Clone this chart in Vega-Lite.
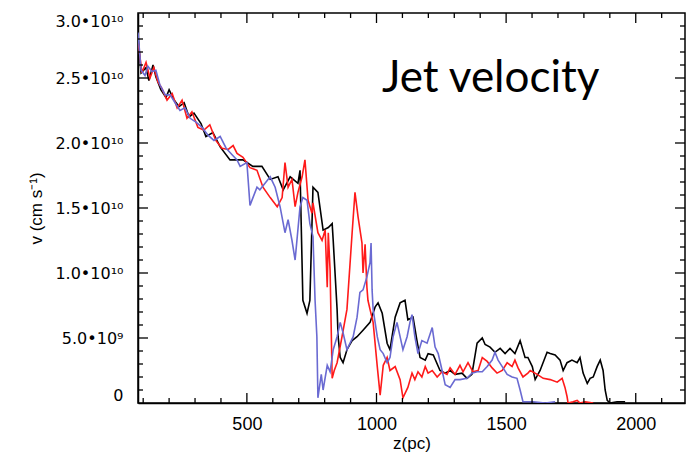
{
  "$schema": "https://vega.github.io/schema/vega-lite/v6.json",
  "width": 547,
  "height": 390,
  "autosize": "none",
  "padding": {"left": 138, "top": 13, "right": 8, "bottom": 59},
  "background": "white",
  "config": {
    "view": {"stroke": "black", "strokeWidth": 1.5, "strokeOpacity": 1},
    "rule": {"opacity": 1, "strokeOpacity": 1, "color": "black"},
    "axis": {
      "grid": false,
      "domainColor": "black",
      "domainWidth": 1.5,
      "domainOpacity": 1,
      "ticks": true,
      "tickColor": "black",
      "tickOpacity": 1,
      "tickWidth": 1.3,
      "labelColor": "black",
      "labelFont": "Liberation Sans",
      "titleFont": "Liberation Sans",
      "titleColor": "black",
      "titleFontWeight": "normal"
    }
  },
  "datasets": {
    "label": [{"z": 1021, "v": 23.9e9, "label": "Jet velocity"}],
    "xmajor": [{"z": 500}, {"z": 1000}, {"z": 1500}, {"z": 2000}],
    "xminor": [{"z": 100}, {"z": 200}, {"z": 300}, {"z": 400}, {"z": 600}, {"z": 700}, {"z": 800}, {"z": 900}, {"z": 1100}, {"z": 1200}, {"z": 1300}, {"z": 1400}, {"z": 1600}, {"z": 1700}, {"z": 1800}, {"z": 1900}, {"z": 2100}],
    "ymajor": [{"v": 5e9}, {"v": 10e9}, {"v": 15e9}, {"v": 20e9}, {"v": 25e9}],
    "yminor": [{"v": 1e9}, {"v": 2e9}, {"v": 3e9}, {"v": 4e9}, {"v": 6e9}, {"v": 7e9}, {"v": 8e9}, {"v": 9e9}, {"v": 11e9}, {"v": 12e9}, {"v": 13e9}, {"v": 14e9}, {"v": 16e9}, {"v": 17e9}, {"v": 18e9}, {"v": 19e9}, {"v": 21e9}, {"v": 22e9}, {"v": 23e9}, {"v": 24e9}, {"v": 26e9}, {"v": 27e9}, {"v": 28e9}, {"v": 29e9}]
  },
  "layer": [
    {
      "data": {
        "values": [
          {"run": "black", "z": 80, "v": 28.2e9}, {"run": "black", "z": 92, "v": 25.4e9}, {"run": "black", "z": 111, "v": 25.8e9}, {"run": "black", "z": 122, "v": 24.8e9}, {"run": "black", "z": 138, "v": 26.0e9}, {"run": "black", "z": 149, "v": 25.1e9}, {"run": "black", "z": 168, "v": 24.1e9}, {"run": "black", "z": 188, "v": 23.5e9}, {"run": "black", "z": 200, "v": 24.1e9}, {"run": "black", "z": 219, "v": 23.3e9}, {"run": "black", "z": 238, "v": 22.8e9}, {"run": "black", "z": 258, "v": 23.1e9}, {"run": "black", "z": 277, "v": 22.0e9}, {"run": "black", "z": 296, "v": 22.3e9}, {"run": "black", "z": 323, "v": 21.5e9}, {"run": "black", "z": 342, "v": 20.5e9}, {"run": "black", "z": 369, "v": 20.8e9}, {"run": "black", "z": 397, "v": 19.7e9}, {"run": "black", "z": 435, "v": 18.7e9}, {"run": "black", "z": 485, "v": 18.7e9}, {"run": "black", "z": 523, "v": 18.2e9}, {"run": "black", "z": 558, "v": 18.2e9}, {"run": "black", "z": 590, "v": 17.2e9}, {"run": "black", "z": 620, "v": 17.4e9}, {"run": "black", "z": 640, "v": 16.4e9}, {"run": "black", "z": 667, "v": 17.4e9}, {"run": "black", "z": 697, "v": 16.9e9}, {"run": "black", "z": 705, "v": 17.9e9}, {"run": "black", "z": 716, "v": 7.9e9}, {"run": "black", "z": 732, "v": 6.9e9}, {"run": "black", "z": 743, "v": 7.9e9}, {"run": "black", "z": 755, "v": 16.6e9}, {"run": "black", "z": 774, "v": 16.2e9}, {"run": "black", "z": 794, "v": 13.3e9}, {"run": "black", "z": 814, "v": 13.5e9}, {"run": "black", "z": 829, "v": 13.8e9}, {"run": "black", "z": 833, "v": 12.5e9}, {"run": "black", "z": 848, "v": 7.2e9}, {"run": "black", "z": 852, "v": 5.1e9}, {"run": "black", "z": 860, "v": 3.5e9}, {"run": "black", "z": 871, "v": 3.1e9}, {"run": "black", "z": 886, "v": 4.1e9}, {"run": "black", "z": 906, "v": 4.8e9}, {"run": "black", "z": 925, "v": 5.1e9}, {"run": "black", "z": 948, "v": 5.6e9}, {"run": "black", "z": 975, "v": 6.2e9}, {"run": "black", "z": 995, "v": 7.4e9}, {"run": "black", "z": 1006, "v": 7.7e9}, {"run": "black", "z": 1022, "v": 6.9e9}, {"run": "black", "z": 1041, "v": 4.6e9}, {"run": "black", "z": 1052, "v": 4.1e9}, {"run": "black", "z": 1072, "v": 6.6e9}, {"run": "black", "z": 1091, "v": 7.7e9}, {"run": "black", "z": 1110, "v": 7.9e9}, {"run": "black", "z": 1121, "v": 6.4e9}, {"run": "black", "z": 1141, "v": 6.6e9}, {"run": "black", "z": 1156, "v": 4.8e9}, {"run": "black", "z": 1168, "v": 3.5e9}, {"run": "black", "z": 1188, "v": 3.3e9}, {"run": "black", "z": 1199, "v": 3.8e9}, {"run": "black", "z": 1219, "v": 3.7e9}, {"run": "black", "z": 1245, "v": 2.5e9}, {"run": "black", "z": 1265, "v": 2.3e9}, {"run": "black", "z": 1284, "v": 2.5e9}, {"run": "black", "z": 1303, "v": 2.2e9}, {"run": "black", "z": 1330, "v": 2.3e9}, {"run": "black", "z": 1349, "v": 1.9e9}, {"run": "black", "z": 1368, "v": 2.2e9}, {"run": "black", "z": 1388, "v": 4.6e9}, {"run": "black", "z": 1408, "v": 5.0e9}, {"run": "black", "z": 1419, "v": 4.5e9}, {"run": "black", "z": 1438, "v": 4.3e9}, {"run": "black", "z": 1457, "v": 3.9e9}, {"run": "black", "z": 1477, "v": 4.2e9}, {"run": "black", "z": 1496, "v": 3.8e9}, {"run": "black", "z": 1515, "v": 4.2e9}, {"run": "black", "z": 1534, "v": 3.8e9}, {"run": "black", "z": 1554, "v": 4.8e9}, {"run": "black", "z": 1573, "v": 3.5e9}, {"run": "black", "z": 1584, "v": 3.5e9}, {"run": "black", "z": 1601, "v": 2.8e9}, {"run": "black", "z": 1612, "v": 1.8e9}, {"run": "black", "z": 1631, "v": 2.5e9}, {"run": "black", "z": 1658, "v": 3.9e9}, {"run": "black", "z": 1670, "v": 3.8e9}, {"run": "black", "z": 1689, "v": 3.7e9}, {"run": "black", "z": 1708, "v": 3.3e9}, {"run": "black", "z": 1720, "v": 2.5e9}, {"run": "black", "z": 1735, "v": 3.1e9}, {"run": "black", "z": 1754, "v": 3.3e9}, {"run": "black", "z": 1774, "v": 3.1e9}, {"run": "black", "z": 1785, "v": 3.5e9}, {"run": "black", "z": 1797, "v": 2.3e9}, {"run": "black", "z": 1813, "v": 1.5e9}, {"run": "black", "z": 1824, "v": 1.9e9}, {"run": "black", "z": 1836, "v": 2.0e9}, {"run": "black", "z": 1851, "v": 2.8e9}, {"run": "black", "z": 1863, "v": 3.3e9}, {"run": "black", "z": 1874, "v": 2.5e9}, {"run": "black", "z": 1882, "v": 1.0e9}, {"run": "black", "z": 1890, "v": 0.2e9}, {"run": "black", "z": 1901, "v": 0}, {"run": "black", "z": 1928, "v": 0.1e9}, {"run": "black", "z": 1959, "v": 0.1e9},

          {"run": "red", "z": 80, "v": 27.9e9}, {"run": "red", "z": 95, "v": 25.4e9}, {"run": "red", "z": 111, "v": 26.2e9}, {"run": "red", "z": 126, "v": 25.0e9}, {"run": "red", "z": 141, "v": 25.8e9}, {"run": "red", "z": 157, "v": 24.7e9}, {"run": "red", "z": 172, "v": 24.2e9}, {"run": "red", "z": 192, "v": 23.3e9}, {"run": "red", "z": 212, "v": 23.8e9}, {"run": "red", "z": 231, "v": 22.7e9}, {"run": "red", "z": 250, "v": 23.3e9}, {"run": "red", "z": 269, "v": 21.9e9}, {"run": "red", "z": 288, "v": 22.4e9}, {"run": "red", "z": 311, "v": 21.2e9}, {"run": "red", "z": 334, "v": 21.0e9}, {"run": "red", "z": 357, "v": 21.4e9}, {"run": "red", "z": 380, "v": 20.2e9}, {"run": "red", "z": 404, "v": 19.6e9}, {"run": "red", "z": 428, "v": 19.5e9}, {"run": "red", "z": 447, "v": 19.8e9}, {"run": "red", "z": 462, "v": 19.2e9}, {"run": "red", "z": 485, "v": 18.9e9}, {"run": "red", "z": 512, "v": 18.1e9}, {"run": "red", "z": 539, "v": 17.9e9}, {"run": "red", "z": 562, "v": 16.6e9}, {"run": "red", "z": 590, "v": 15.8e9}, {"run": "red", "z": 617, "v": 15.1e9}, {"run": "red", "z": 636, "v": 15.8e9}, {"run": "red", "z": 647, "v": 18.5e9}, {"run": "red", "z": 659, "v": 16.6e9}, {"run": "red", "z": 674, "v": 17.2e9}, {"run": "red", "z": 686, "v": 15.1e9}, {"run": "red", "z": 697, "v": 16.2e9}, {"run": "red", "z": 713, "v": 17.4e9}, {"run": "red", "z": 724, "v": 18.7e9}, {"run": "red", "z": 736, "v": 15.6e9}, {"run": "red", "z": 751, "v": 14.6e9}, {"run": "red", "z": 755, "v": 15.4e9}, {"run": "red", "z": 774, "v": 13.1e9}, {"run": "red", "z": 790, "v": 12.5e9}, {"run": "red", "z": 802, "v": 13.3e9}, {"run": "red", "z": 810, "v": 8.9e9}, {"run": "red", "z": 814, "v": 13.1e9}, {"run": "red", "z": 821, "v": 10.2e9}, {"run": "red", "z": 829, "v": 1.9e9}, {"run": "red", "z": 837, "v": 2.5e9}, {"run": "red", "z": 848, "v": 3.1e9}, {"run": "red", "z": 867, "v": 5.1e9}, {"run": "red", "z": 886, "v": 7.2e9}, {"run": "red", "z": 906, "v": 13.1e9}, {"run": "red", "z": 917, "v": 16.2e9}, {"run": "red", "z": 929, "v": 14.3e9}, {"run": "red", "z": 944, "v": 12.3e9}, {"run": "red", "z": 948, "v": 10.0e9}, {"run": "red", "z": 956, "v": 12.2e9}, {"run": "red", "z": 963, "v": 8.9e9}, {"run": "red", "z": 967, "v": 7.9e9}, {"run": "red", "z": 975, "v": 7.2e9}, {"run": "red", "z": 987, "v": 6.2e9}, {"run": "red", "z": 1003, "v": 2.8e9}, {"run": "red", "z": 1014, "v": 0.6e9}, {"run": "red", "z": 1026, "v": 2.9e9}, {"run": "red", "z": 1041, "v": 3.5e9}, {"run": "red", "z": 1052, "v": 2.5e9}, {"run": "red", "z": 1072, "v": 2.8e9}, {"run": "red", "z": 1091, "v": 1.8e9}, {"run": "red", "z": 1102, "v": 0.4e9}, {"run": "red", "z": 1121, "v": 1.2e9}, {"run": "red", "z": 1137, "v": 2.3e9}, {"run": "red", "z": 1148, "v": 1.8e9}, {"run": "red", "z": 1160, "v": 2.4e9}, {"run": "red", "z": 1175, "v": 2.0e9}, {"run": "red", "z": 1188, "v": 2.8e9}, {"run": "red", "z": 1199, "v": 2.3e9}, {"run": "red", "z": 1215, "v": 2.5e9}, {"run": "red", "z": 1234, "v": 2.0e9}, {"run": "red", "z": 1253, "v": 2.4e9}, {"run": "red", "z": 1272, "v": 2.2e9}, {"run": "red", "z": 1284, "v": 2.7e9}, {"run": "red", "z": 1303, "v": 2.2e9}, {"run": "red", "z": 1322, "v": 2.9e9}, {"run": "red", "z": 1334, "v": 2.4e9}, {"run": "red", "z": 1353, "v": 3.1e9}, {"run": "red", "z": 1372, "v": 2.4e9}, {"run": "red", "z": 1392, "v": 2.5e9}, {"run": "red", "z": 1408, "v": 3.5e9}, {"run": "red", "z": 1427, "v": 3.2e9}, {"run": "red", "z": 1446, "v": 2.7e9}, {"run": "red", "z": 1465, "v": 2.3e9}, {"run": "red", "z": 1485, "v": 2.5e9}, {"run": "red", "z": 1504, "v": 3.1e9}, {"run": "red", "z": 1523, "v": 2.8e9}, {"run": "red", "z": 1534, "v": 3.3e9}, {"run": "red", "z": 1546, "v": 2.7e9}, {"run": "red", "z": 1565, "v": 2.0e9}, {"run": "red", "z": 1584, "v": 2.3e9}, {"run": "red", "z": 1593, "v": 2.5e9}, {"run": "red", "z": 1620, "v": 2.2e9}, {"run": "red", "z": 1643, "v": 1.9e9}, {"run": "red", "z": 1670, "v": 1.8e9}, {"run": "red", "z": 1697, "v": 1.6e9}, {"run": "red", "z": 1716, "v": 1.9e9}, {"run": "red", "z": 1727, "v": 1.2e9}, {"run": "red", "z": 1735, "v": 0.5e9}, {"run": "red", "z": 1739, "v": 0}, {"run": "red", "z": 1758, "v": 0.1e9}, {"run": "red", "z": 1774, "v": 0.2e9}, {"run": "red", "z": 1785, "v": 0}, {"run": "red", "z": 1805, "v": 0.1e9}, {"run": "red", "z": 1836, "v": 0},

          {"run": "blue", "z": 80, "v": 28.5e9}, {"run": "blue", "z": 92, "v": 25.6e9}, {"run": "blue", "z": 107, "v": 25.2e9}, {"run": "blue", "z": 118, "v": 25.9e9}, {"run": "blue", "z": 134, "v": 25.5e9}, {"run": "blue", "z": 149, "v": 25.6e9}, {"run": "blue", "z": 164, "v": 24.5e9}, {"run": "blue", "z": 185, "v": 23.7e9}, {"run": "blue", "z": 204, "v": 23.7e9}, {"run": "blue", "z": 223, "v": 23.1e9}, {"run": "blue", "z": 242, "v": 22.5e9}, {"run": "blue", "z": 261, "v": 22.7e9}, {"run": "blue", "z": 281, "v": 21.9e9}, {"run": "blue", "z": 304, "v": 21.6e9}, {"run": "blue", "z": 327, "v": 21.2e9}, {"run": "blue", "z": 350, "v": 20.6e9}, {"run": "blue", "z": 373, "v": 20.2e9}, {"run": "blue", "z": 397, "v": 20.5e9}, {"run": "blue", "z": 420, "v": 19.6e9}, {"run": "blue", "z": 443, "v": 19.1e9}, {"run": "blue", "z": 462, "v": 18.7e9}, {"run": "blue", "z": 474, "v": 18.2e9}, {"run": "blue", "z": 500, "v": 18.5e9}, {"run": "blue", "z": 512, "v": 15.2e9}, {"run": "blue", "z": 539, "v": 16.6e9}, {"run": "blue", "z": 550, "v": 16.4e9}, {"run": "blue", "z": 570, "v": 16.9e9}, {"run": "blue", "z": 590, "v": 17.4e9}, {"run": "blue", "z": 609, "v": 16.6e9}, {"run": "blue", "z": 628, "v": 15.1e9}, {"run": "blue", "z": 647, "v": 13.1e9}, {"run": "blue", "z": 659, "v": 14.1e9}, {"run": "blue", "z": 674, "v": 12.5e9}, {"run": "blue", "z": 686, "v": 11.0e9}, {"run": "blue", "z": 693, "v": 12.5e9}, {"run": "blue", "z": 705, "v": 15.1e9}, {"run": "blue", "z": 716, "v": 15.8e9}, {"run": "blue", "z": 732, "v": 15.6e9}, {"run": "blue", "z": 743, "v": 13.8e9}, {"run": "blue", "z": 755, "v": 12.8e9}, {"run": "blue", "z": 763, "v": 7.9e9}, {"run": "blue", "z": 770, "v": 5.1e9}, {"run": "blue", "z": 774, "v": 0.4e9}, {"run": "blue", "z": 787, "v": 2.2e9}, {"run": "blue", "z": 794, "v": 1.0e9}, {"run": "blue", "z": 810, "v": 2.9e9}, {"run": "blue", "z": 821, "v": 2.4e9}, {"run": "blue", "z": 833, "v": 4.1e9}, {"run": "blue", "z": 848, "v": 5.1e9}, {"run": "blue", "z": 860, "v": 6.2e9}, {"run": "blue", "z": 871, "v": 5.4e9}, {"run": "blue", "z": 886, "v": 4.1e9}, {"run": "blue", "z": 898, "v": 4.6e9}, {"run": "blue", "z": 910, "v": 5.1e9}, {"run": "blue", "z": 925, "v": 6.6e9}, {"run": "blue", "z": 936, "v": 8.5e9}, {"run": "blue", "z": 948, "v": 8.7e9}, {"run": "blue", "z": 963, "v": 9.7e9}, {"run": "blue", "z": 975, "v": 10.8e9}, {"run": "blue", "z": 979, "v": 12.3e9}, {"run": "blue", "z": 983, "v": 8.7e9}, {"run": "blue", "z": 987, "v": 7.2e9}, {"run": "blue", "z": 1003, "v": 5.1e9}, {"run": "blue", "z": 1014, "v": 4.1e9}, {"run": "blue", "z": 1026, "v": 3.8e9}, {"run": "blue", "z": 1041, "v": 3.1e9}, {"run": "blue", "z": 1052, "v": 3.5e9}, {"run": "blue", "z": 1064, "v": 5.1e9}, {"run": "blue", "z": 1079, "v": 6.2e9}, {"run": "blue", "z": 1091, "v": 5.1e9}, {"run": "blue", "z": 1102, "v": 4.1e9}, {"run": "blue", "z": 1118, "v": 5.1e9}, {"run": "blue", "z": 1129, "v": 6.2e9}, {"run": "blue", "z": 1137, "v": 6.8e9}, {"run": "blue", "z": 1148, "v": 5.1e9}, {"run": "blue", "z": 1160, "v": 3.8e9}, {"run": "blue", "z": 1175, "v": 4.8e9}, {"run": "blue", "z": 1195, "v": 4.6e9}, {"run": "blue", "z": 1215, "v": 5.8e9}, {"run": "blue", "z": 1226, "v": 4.3e9}, {"run": "blue", "z": 1238, "v": 3.8e9}, {"run": "blue", "z": 1253, "v": 2.5e9}, {"run": "blue", "z": 1265, "v": 1.4e9}, {"run": "blue", "z": 1284, "v": 1.2e9}, {"run": "blue", "z": 1303, "v": 1.8e9}, {"run": "blue", "z": 1322, "v": 1.8e9}, {"run": "blue", "z": 1349, "v": 1.9e9}, {"run": "blue", "z": 1368, "v": 2.3e9}, {"run": "blue", "z": 1388, "v": 2.4e9}, {"run": "blue", "z": 1408, "v": 2.4e9}, {"run": "blue", "z": 1427, "v": 2.8e9}, {"run": "blue", "z": 1446, "v": 3.3e9}, {"run": "blue", "z": 1457, "v": 3.9e9}, {"run": "blue", "z": 1469, "v": 3.3e9}, {"run": "blue", "z": 1485, "v": 2.8e9}, {"run": "blue", "z": 1504, "v": 2.2e9}, {"run": "blue", "z": 1523, "v": 2.0e9}, {"run": "blue", "z": 1542, "v": 1.9e9}, {"run": "blue", "z": 1554, "v": 1.0e9}, {"run": "blue", "z": 1565, "v": 0.1e9}, {"run": "blue", "z": 1604, "v": 0.1e9}, {"run": "blue", "z": 1651, "v": 0}, {"run": "blue", "z": 1689, "v": 0.1e9}
        ]
      },
      "mark": {"type": "line", "strokeWidth": 1.6, "clip": true},
      "encoding": {
        "x": {
          "field": "z", "type": "quantitative",
          "scale": {"domain": [80, 2190], "nice": false, "zero": false},
          "axis": {
            "orient": "bottom",
            "values": [500, 1000, 1500, 2000],
            "format": "d",
            "ticks": false,
            "labelFontSize": 18,
            "labelPadding": 12,
            "labelFlush": false,
            "title": "z(pc)",
            "titleFontSize": 17,
            "titlePadding": 2
          }
        },
        "y": {
          "field": "v", "type": "quantitative",
          "scale": {"domain": [0, 30000000000], "nice": false, "zero": false},
          "axis": {
            "orient": "left",
            "values": [0, 5e9, 10e9, 15e9, 20e9, 25e9, 30e9],
            "labelExpr": "datum.value === 0 ? '0' : datum.value === 5e9 ? '5.0•10⁹' : format(datum.value / 1e10, '.1f') + '•10¹⁰'",
            "ticks": false,
            "labelFont": "DejaVu Sans",
            "labelFontSize": 16,
            "labelPadding": 15,
            "labelFlush": true,
            "title": "v (cm s⁻¹)",
            "titleFontSize": 17,
            "titlePadding": 9
          }
        },
        "color": {
          "field": "run", "type": "nominal",
          "scale": {"domain": ["black", "red", "blue"], "range": ["#000000", "#ff1a1a", "#6a6ad2"]},
          "legend": null
        }
      }
    },
    {
      "data": {"name": "label"},
      "mark": {"type": "text", "align": "left", "baseline": "alphabetic", "font": "Lato", "fontSize": 44, "color": "black"},
      "encoding": {
        "x": {"field": "z", "type": "quantitative"},
        "y": {"field": "v", "type": "quantitative"},
        "text": {"field": "label"}
      }
    },
    {
      "data": {"name": "xmajor"},
      "mark": {"type": "rule", "color": "black", "strokeWidth": 1.3, "opacity": 1},
      "encoding": {"x": {"field": "z", "type": "quantitative"}, "y": {"datum": 0, "type": "quantitative"}, "y2": {"datum": 770000000}}
    },
    {
      "data": {"name": "xminor"},
      "mark": {"type": "rule", "color": "black", "strokeWidth": 1.3, "opacity": 1},
      "encoding": {"x": {"field": "z", "type": "quantitative"}, "y": {"datum": 0, "type": "quantitative"}, "y2": {"datum": 385000000}}
    },
    {
      "data": {"name": "xmajor"},
      "mark": {"type": "rule", "color": "black", "strokeWidth": 1.3, "opacity": 1},
      "encoding": {"x": {"field": "z", "type": "quantitative"}, "y": {"datum": 30000000000, "type": "quantitative"}, "y2": {"datum": 29230000000}}
    },
    {
      "data": {"name": "xminor"},
      "mark": {"type": "rule", "color": "black", "strokeWidth": 1.3, "opacity": 1},
      "encoding": {"x": {"field": "z", "type": "quantitative"}, "y": {"datum": 30000000000, "type": "quantitative"}, "y2": {"datum": 29615000000}}
    },
    {
      "data": {"name": "ymajor"},
      "mark": {"type": "rule", "color": "black", "strokeWidth": 1.3, "opacity": 1},
      "encoding": {"y": {"field": "v", "type": "quantitative"}, "x": {"datum": 80, "type": "quantitative"}, "x2": {"datum": 118.6}}
    },
    {
      "data": {"name": "yminor"},
      "mark": {"type": "rule", "color": "black", "strokeWidth": 1.3, "opacity": 1},
      "encoding": {"y": {"field": "v", "type": "quantitative"}, "x": {"datum": 80, "type": "quantitative"}, "x2": {"datum": 99.3}}
    },
    {
      "data": {"name": "ymajor"},
      "mark": {"type": "rule", "color": "black", "strokeWidth": 1.3, "opacity": 1},
      "encoding": {"y": {"field": "v", "type": "quantitative"}, "x": {"datum": 2190, "type": "quantitative"}, "x2": {"datum": 2151.4}}
    },
    {
      "data": {"name": "yminor"},
      "mark": {"type": "rule", "color": "black", "strokeWidth": 1.3, "opacity": 1},
      "encoding": {"y": {"field": "v", "type": "quantitative"}, "x": {"datum": 2190, "type": "quantitative"}, "x2": {"datum": 2170.7}}
    }
  ]
}
